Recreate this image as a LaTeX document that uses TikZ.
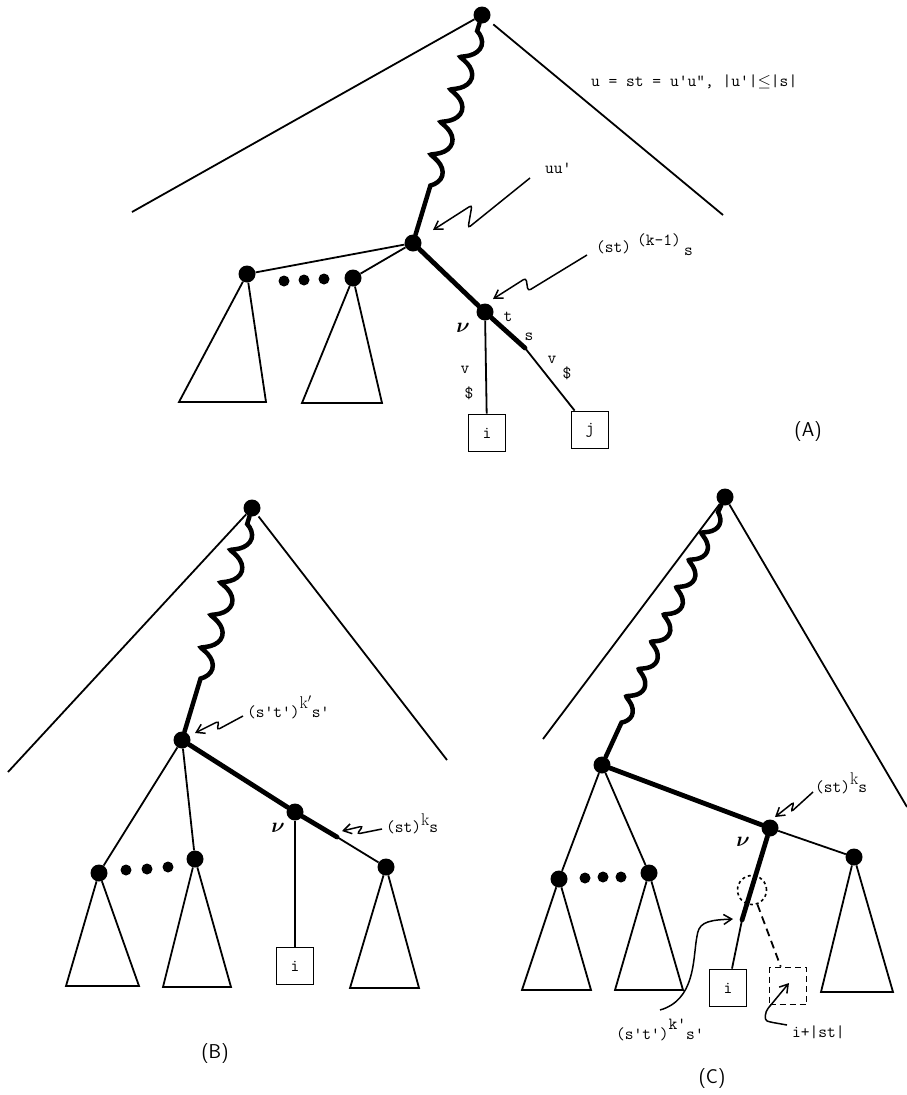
\documentclass[tikz,border=0pt]{standalone}
\usepackage{bm}
\usetikzlibrary{decorations.pathmorphing,arrows.meta}
\begin{document}
\begin{tikzpicture}[x=1pt,y=-1pt,
  tdot/.style={circle,fill=black,inner sep=0pt,minimum size=17pt},
  sdot/.style={circle,fill=black,inner sep=0pt,minimum size=11pt},
  thinedge/.style={line width=1.8pt},
  thickedge/.style={line width=4.8pt,line cap=round},
  wavy/.style={line width=4.5pt,line cap=round,decorate,decoration={coil,amplitude=8.5pt,segment length=34pt,aspect=0.5,pre length=8pt,post length=#1}},
  leaf/.style={draw,line width=1.8pt,minimum size=37pt,inner sep=0pt,font=\ttfamily\fontsize{17}{17}\selectfont},
  lbl/.style={font=\ttfamily\fontsize{17}{19}\selectfont,inner sep=0pt},
  lblarrow/.style={line width=1.5pt,-{Straight Barb[length=8pt,width=10pt,line width=1.5pt]},rounded corners=3pt},
  nulabel/.style={font=\fontsize{22}{22}\selectfont,inner sep=0pt},
  panellabel/.style={font=\sffamily\fontsize{20}{22}\selectfont,inner sep=0pt}
]
\useasboundingbox (0,0) rectangle (907,1095);

% ================= (A) =================
\node[tdot] (rA) at (482,15) {};
\coordinate (aL) at (132,212);
\coordinate (aR) at (723,215);
\draw[thinedge] (rA) -- (aL);
\draw[thinedge,shorten <=6pt] (rA) -- (aR);
\node[tdot] (nA1) at (413,243) {};
\draw[wavy=28pt] (rA) -- (nA1);
\node[lbl,anchor=west] (eqA) at (591,82) {u = st = u'u", |u'|$\leq$|s|};

\node[tdot] (nA2) at (247,274) {};
\node[tdot] (nA3) at (353,278) {};
\node[sdot] (dA1) at (284,281) {};
\node[sdot] (dA2) at (304,280) {};
\node[sdot] (dA3) at (324,279) {};
\draw[thinedge] (nA1) -- (nA2);
\draw[thinedge] (nA1) -- (nA3);
\coordinate (tA2l) at (179,402); \coordinate (tA2r) at (266,402);
\coordinate (tA3l) at (302,403); \coordinate (tA3r) at (382,403);
\draw[thinedge] (nA2) -- (tA2l) -- (tA2r) -- (nA2);
\draw[thinedge] (nA3) -- (tA3l) -- (tA3r) -- (nA3);

\node[tdot] (vA) at (485,312) {};
\coordinate (mA) at (525,348);
\draw[thickedge] (nA1) -- (vA) -- (mA);
\node[leaf] (iA) at (487,433) {i};
\node[leaf] (jA) at (590,430) {j};
\draw[thinedge] (mA) -- (jA);
\draw[thinedge] (vA) -- (iA);
\node[nulabel] (nuA) at (463,328) {$\bm{\nu}$};
\node[lbl] (tA) at (508,317) {t};
\node[lbl] (sA) at (529,337) {s};
\node[lbl] (vA1) at (465,370) {v};
\node[lbl] (dlA1) at (469,393) {\$};
\node[lbl] (vA2) at (552,360) {v};
\node[lbl] (dlA2) at (567,373) {\$};

\node[lbl,anchor=west] (uuA) at (545,168) {uu'};
\coordinate (uuS) at (530,178);
\coordinate (uuE) at (433,230);
\draw[lblarrow] (uuS) -- (468,228) -- (472,205) -- (uuE);

\node[lbl,anchor=west] (stA) at (596,245) {(st)\hspace{6pt}\raisebox{7pt}{(k-1)}\hspace{3pt}\raisebox{-3pt}{s}};
\coordinate (stS) at (587,255);
\coordinate (stE) at (493,299);
\draw[lblarrow] (stS) -- (528,291) -- (526,278) -- (stE);

\node[panellabel] (capA) at (808,432) {(A)};

% ================= (B) =================
\node[tdot] (rB) at (252,508) {};
\coordinate (bL) at (8,772);
\coordinate (bR) at (447,760);
\draw[thinedge] (rB) -- (bL);
\draw[thinedge,shorten <=2pt] (rB) -- (bR);
\node[tdot] (nB1) at (182,740) {};
\draw[wavy=30pt] (rB) -- (nB1);

\node[lbl,anchor=west] (skB) at (247,707) {(s't')\raisebox{9pt}{\rmfamily k$'$}s'};
\coordinate (skS) at (243,716);
\coordinate (skE) at (195,733);
\draw[lblarrow] (skS) -- (217,730) -- (219,721) -- (skE);

\node[tdot] (nB2) at (99,873) {};
\node[tdot] (nB3) at (195,859) {};
\node[sdot] (dB1) at (126,870) {};
\node[sdot] (dB2) at (147,869) {};
\node[sdot] (dB3) at (168,867) {};
\draw[thinedge] (nB1) -- (nB2);
\draw[thinedge] (nB1) -- (nB3);
\coordinate (tB2l) at (66,986); \coordinate (tB2r) at (139,986);
\coordinate (tB3l) at (163,987); \coordinate (tB3r) at (231,987);
\draw[thinedge] (nB2) -- (tB2l) -- (tB2r) -- (nB2);
\draw[thinedge] (nB3) -- (tB3l) -- (tB3r) -- (nB3);

\node[tdot] (vB) at (295,812) {};
\coordinate (mB) at (337,837);
\node[tdot] (nB4) at (386,867) {};
\draw[thickedge] (nB1) -- (vB) -- (mB);
\draw[thinedge] (mB) -- (nB4);
\coordinate (tB4l) at (350,988); \coordinate (tB4r) at (419,988);
\draw[thinedge] (nB4) -- (tB4l) -- (tB4r) -- (nB4);
\node[leaf] (iB) at (295,966) {i};
\draw[thinedge] (vB) -- (iB);
\node[nulabel] (nuB) at (278,828) {$\bm{\nu}$};

\node[lbl,anchor=west] (stB) at (386,824) {(st)\raisebox{7pt}{\rmfamily k}s};
\coordinate (stBS) at (382,829);
\coordinate (stBE) at (342,831);
\draw[lblarrow] (stBS) -- (357,834) -- (363,826) -- (stBE);

\node[panellabel] (capB) at (215,1053) {(B)};

% ================= (C) =================
\node[tdot] (rC) at (725,497) {};
\coordinate (cL) at (543,739);
\coordinate (cR) at (907,807);
\draw[thinedge] (rC) -- (cL);
\draw[thinedge] (rC) -- (cR);
\node[tdot] (nC1) at (602,765) {};
\draw[wavy=8pt,decoration={amplitude=6.5pt,segment length=30pt}] (rC) -- (nC1);

\node[tdot] (nC2) at (559,879) {};
\node[tdot] (nC3) at (649,873) {};
\node[sdot] (dC1) at (585,878) {};
\node[sdot] (dC2) at (603,877) {};
\node[sdot] (dC3) at (621,877) {};
\draw[thinedge] (nC1) -- (nC2);
\draw[thinedge] (nC1) -- (nC3);
\coordinate (tC2l) at (522,990); \coordinate (tC2r) at (591,990);
\coordinate (tC3l) at (615,990); \coordinate (tC3r) at (683,990);
\draw[thinedge] (nC2) -- (tC2l) -- (tC2r) -- (nC2);
\draw[thinedge] (nC3) -- (tC3l) -- (tC3r) -- (nC3);

\node[tdot] (vC) at (770,828) {};
\node[tdot] (nC4) at (854,857) {};
\draw[thickedge] (nC1) -- (vC);
\draw[thinedge] (vC) -- (nC4);
\coordinate (tC4l) at (821,992); \coordinate (tC4r) at (893,992);
\draw[thinedge] (nC4) -- (tC4l) -- (tC4r) -- (nC4);

\coordinate (mC) at (742,920);
\node[leaf] (iC) at (728,988) {i};
\draw[thickedge] (vC) -- (mC);
\draw[thinedge] (mC) -- (iC);
\node[draw,circle,dashed,line width=1.6pt,minimum size=29pt,inner sep=0pt] (dcC) at (752,890) {};
\node[leaf,dashed,dash pattern=on 6pt off 4pt] (jC) at (788,986) {};
\draw[thinedge,dashed,dash pattern=on 8pt off 5pt] (dcC) -- (jC);
\node[nulabel] (nuC) at (743,842) {$\bm{\nu}$};

\node[lbl,anchor=west] (stC) at (815,783) {(st)\raisebox{8pt}{\rmfamily k}s};
\coordinate (stCS) at (813,792);
\coordinate (stCE) at (775,817);
\draw[lblarrow] (stCS) -- (791,812) -- (794,802) -- (stCE);

\node[lbl,anchor=west] (skC) at (616,1030) {(s't')\raisebox{10pt}{k'}s'};
\coordinate (skCS) at (660,1010);
\coordinate (skCE) at (733,919);
\draw[lblarrow] (skCS) .. controls (695,1000) and (693,960) .. (697,936) .. controls (700,921) and (712,920) .. (skCE);

\node[lbl,anchor=west] (ipC) at (792,1032) {i+|st|};
\coordinate (ipS) at (787,1025);
\coordinate (ipE) at (789,983);
\draw[lblarrow] (ipS) -- (770,1022) .. controls (764,1020) and (765,1012) .. (770,1006) -- (ipE);

\node[panellabel] (capC) at (712,1078) {(C)};
\end{tikzpicture}
\end{document}
